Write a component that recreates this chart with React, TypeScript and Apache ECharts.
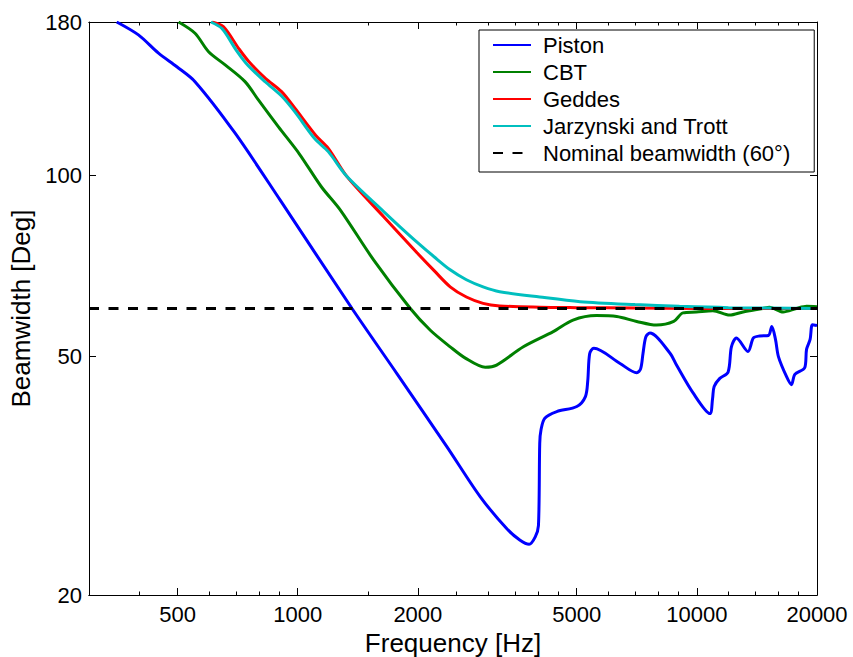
import React, { useEffect, useRef } from 'react';
import * as echarts from 'echarts';

const FONT = '"Liberation Sans", Arial, Helvetica, sans-serif';

// Tick values
const xMajorTicks = [500, 1000, 2000, 5000, 10000, 20000];
const xMinorTicks = [400, 600, 700, 800, 900, 1500, 2500, 3000, 3500, 4000, 4500, 6000, 7000, 8000, 9000, 12000, 14000, 16000, 18000];
const yTicks = [20, 50, 100, 180];

// Piston
const pistonFreq = [352, 399, 448, 498, 553, 697, 904, 1368, 1774, 2366, 2861, 3338, 3600, 3800, 3937, 4010, 4040, 4070, 4160, 4457, 5004, 5258, 5330, 5390, 5521, 6420, 7068, 7230, 7330, 7450, 7627, 8557, 8893, 9785, 10781, 10950, 11050, 11416, 11974, 12207, 12563, 13428, 13860, 14360, 15110, 15410, 15740, 16010, 16780, 17260, 17600, 18630, 18830, 19220, 19480, 20000];
const pistonBw = [180, 171.3, 159.7, 151.6, 143.2, 117.5, 90.9, 60, 46.7, 35.3, 29.2, 25.8, 24.7, 24.3, 25.0, 26.1, 35.8, 37.7, 39.4, 40.4, 41.2, 42.8, 45.5, 50.5, 51.5, 48.6, 46.9, 47.6, 50.5, 53.8, 54.6, 50.6, 48.3, 43.4, 40.1, 42.5, 44.5, 45.9, 47.0, 51.8, 53.6, 50.9, 53.6, 54.0, 54.1, 56.0, 53.3, 49.9, 46.2, 44.8, 46.6, 47.8, 51.3, 53.3, 56.4, 56.2];

// CBT
const cbtFreq = [503, 553, 598, 658, 738, 797, 894, 1010, 1146, 1279, 1549, 1915, 2149, 2410, 2630, 2950, 3150, 3676, 4367, 4895, 5602, 6300, 7068, 7920, 8750, 9231, 9970, 10970, 12080, 13060, 14630, 15200, 16450, 17760, 18840, 20000];
const cbtBw = [180, 172.4, 160.6, 152.7, 143.2, 133.5, 120.5, 108.5, 95.7, 87.5, 72.3, 60, 55.2, 51.8, 49.6, 47.9, 48.3, 51.8, 54.9, 57.4, 58.4, 58.2, 57.1, 56.3, 57.1, 59.0, 59.2, 59.5, 58.5, 59.2, 60.0, 60.3, 59.2, 60.0, 60.5, 60.4];

// Geddes
const geddesFreq = [610, 651, 711, 754, 830, 911, 984, 1110, 1193, 1329, 1642, 1990, 2200, 2410, 2646, 2914, 3207, 4041, 5000, 7000, 10000, 20000];
const geddesBw = [180, 176.8, 162.7, 154.7, 145, 137.8, 129.3, 116.5, 110.9, 99.5, 85.3, 74.3, 69.3, 65.2, 62.7, 61.2, 60.6, 60.3, 60.2, 60.1, 60.0, 60.0];

// Jarzynski and Trott
const jtFreq = [606, 646, 704, 750, 830, 911, 984, 1104, 1193, 1329, 1642, 1807, 1990, 2200, 2410, 2646, 2914, 3207, 4041, 5100, 7000, 9050, 12000, 20000];
const jtBw = [180, 175.5, 161, 152.5, 143, 135.5, 127.5, 115, 109.5, 99.5, 87.0, 82.0, 77.4, 73.1, 69.6, 67.0, 65.2, 64.0, 62.7, 61.6, 60.9, 60.5, 60.2, 60.0];

// Nominal beamwidth
const nominalFreq = [300, 20000];
const nominalBw = [60, 60];

const seriesNames = ['Piston', 'CBT', 'Geddes', 'Jarzynski and Trott', 'Nominal beamwidth (60°)'];
const seriesColors = ['#0000ff', '#008000', '#ff0000', '#00bfbf', '#000000'];

export default function App() {
  const ref = useRef<HTMLDivElement>(null);
  useEffect(() => {
    const chart = echarts.init(ref.current as HTMLDivElement, null, { renderer: 'svg' });
    const zip = (f: number[], v: number[]) => f.map((x, i) => [x, v[i]]);
    const fmt = (v: number) => String(Math.round(v));

    const xAxisDef = (position: string, ticks: number[], len: number, showLabel: boolean, name?: string) => ({
      type: 'log',
      logBase: 10,
      min: 300,
      max: 20000,
      position,
      name: name || '',
      nameLocation: 'middle',
      nameGap: 30,
      nameTextStyle: { fontFamily: FONT, fontSize: 26, color: '#000' },
      axisLine: { show: true, onZero: false, lineStyle: { color: '#000', width: 1 } },
      axisTick: { show: true, inside: true, length: len, customValues: ticks, lineStyle: { color: '#000', width: 1 } },
      axisLabel: showLabel
        ? { show: true, customValues: ticks, formatter: fmt, margin: 8, fontFamily: FONT, fontSize: 22, color: '#000' }
        : { show: false },
      splitLine: { show: false },
      minorTick: { show: false },
      minorSplitLine: { show: false },
    });

    const yAxisDef = (position: string, showLabel: boolean, name?: string) => ({
      type: 'log',
      logBase: 10,
      min: 20,
      max: 180,
      position,
      name: name || '',
      nameLocation: 'middle',
      nameGap: 52,
      nameRotate: 90,
      nameTextStyle: { fontFamily: FONT, fontSize: 26, color: '#000' },
      axisLine: { show: true, onZero: false, lineStyle: { color: '#000', width: 1 } },
      axisTick: { show: true, inside: true, length: 7, customValues: yTicks, lineStyle: { color: '#000', width: 1 } },
      axisLabel: showLabel
        ? { show: true, customValues: yTicks, formatter: fmt, margin: 7, fontFamily: FONT, fontSize: 22, color: '#000' }
        : { show: false },
      splitLine: { show: false },
      minorTick: { show: false },
      minorSplitLine: { show: false },
    });

    const datasets = [
      zip(pistonFreq, pistonBw),
      zip(cbtFreq, cbtBw),
      zip(geddesFreq, geddesBw),
      zip(jtFreq, jtBw),
      zip(nominalFreq, nominalBw),
    ];

    const series = datasets.map((d, i) => ({
      name: seriesNames[i],
      type: 'line',
      data: d,
      xAxisIndex: 0,
      yAxisIndex: 0,
      symbol: 'none',
      showSymbol: false,
      smooth: i === 4 ? false : 0.3,
      clip: true,
      color: seriesColors[i],
      lineStyle: {
        color: seriesColors[i],
        width: 3,
        type: i === 4 ? [10, 9.5] : 'solid',
      },
      emphasis: { disabled: true },
      z: 2 + i,
    }));

    chart.setOption({
      animation: false,
      backgroundColor: '#ffffff',
      textStyle: { fontFamily: FONT },
      grid: { left: 89, right: 36, top: 22, bottom: 62, containLabel: false, outerBoundsMode: 'none' },
      legend: {
        data: seriesNames,
        orient: 'vertical',
        left: 479,
        top: 30,
        padding: [4, 24, 8, 13],
        itemGap: 5,
        itemWidth: 38,
        itemHeight: 14,
        backgroundColor: '#ffffff',
        borderColor: '#000000',
        borderWidth: 1,
        borderRadius: 0,
        selectedMode: false,
        itemStyle: { opacity: 0 },
        textStyle: { fontFamily: FONT, fontSize: 22, color: '#000', padding: [0, 0, 0, 7] },
      },
      xAxis: [
        xAxisDef('bottom', xMajorTicks, 7, true, 'Frequency [Hz]'),
        xAxisDef('bottom', xMinorTicks, 3.5, false),
        xAxisDef('top', xMajorTicks, 7, false),
        xAxisDef('top', xMinorTicks, 3.5, false),
      ],
      yAxis: [
        yAxisDef('left', true, 'Beamwidth [Deg]'),
        yAxisDef('right', false),
      ],
      series,
    });
    return () => chart.dispose();
  }, []);
  return <div ref={ref} style={{ position: 'fixed', left: 0, top: 0, width: 853, height: 657, background: '#fff' }} />;
}
